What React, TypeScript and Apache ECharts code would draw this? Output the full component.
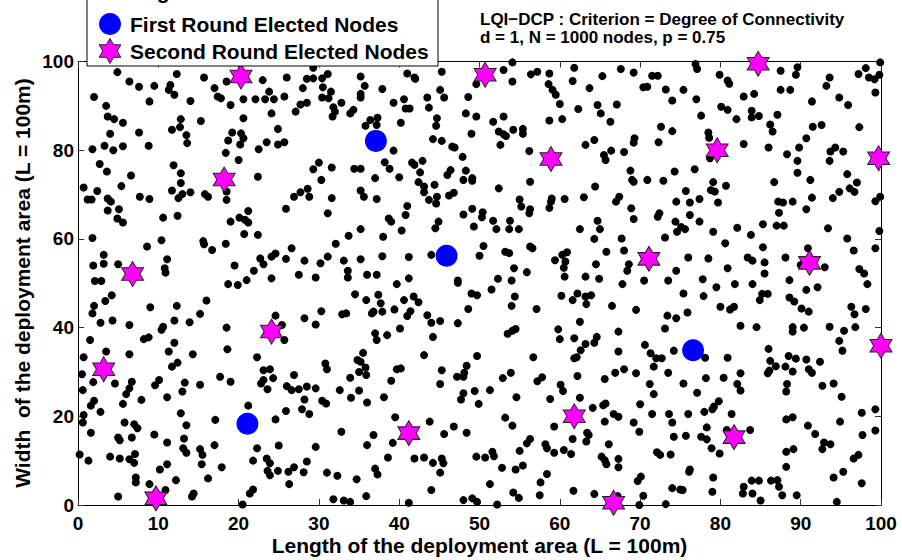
import React, { useEffect, useRef } from "react";
import * as echarts from "echarts";

// Ordinary (non-elected) nodes: [x, y]
const sensorNodes: number[][] = [
  [4.9,97.6],[6.4,95.5],[7.6,94.3],[9.5,94.5],[12.3,97.2],[11.5,94.7],[11.3,93.6],[12.0,92.5],[15.7,96.4],[17.0,94.0],[18.5,95.5],[23.0,95.8],[23.8,93.2],[2.0,92.0],[3.5,90.0],[8.9,91.0],[14.0,91.1],[17.4,92.1],[17.8,91.7],[19.0,90.2],[20.6,91.5],[22.1,91.5],[23.3,91.5],[24.4,91.5],[24.1,88.3],[3.7,87.6],[4.5,87.0],[5.6,86.2],[12.8,87.0],[12.7,85.2],[11.7,84.6],[15.3,86.6],[20.6,87.2],[4.0,83.7],[7.6,84.0],[13.5,83.4],[13.6,81.6],[19.2,84.0],[20.3,83.8],[20.6,82.7],[20.2,81.3],[18.7,82.2],[3.3,81.0],[4.4,80.0],[5.6,80.9],[8.8,81.0],[1.8,80.2],[23.5,81.8],[22.5,80.2],[18.4,79.4],[20.0,77.8],[2.7,76.9],[3.6,75.2],[11.9,76.6],[12.8,74.8],[12.8,72.6],[6.6,74.3],[22.4,74.0],[0.7,71.6],[2.4,70.8],[5.4,71.9],[1.2,68.9],[1.7,68.9],[3.7,69.1],[4.1,68.4],[7.7,69.5],[8.9,69.0],[11.7,70.9],[12.5,69.2],[13.0,70.1],[14.0,70.5],[15.8,70.1],[16.2,69.5],[18.5,70.7],[18.5,68.8],[3.7,66.4],[5.1,66.7],[4.9,64.6],[5.6,63.7],[10.6,64.8],[12.4,65.2],[21.2,66.3],[20.1,64.8],[20.8,64.3],[21.2,63.7],[19.0,63.9],[20.7,61.1],[22.4,60.9],[1.8,60.2],[10.4,59.7],[8.6,58.3],[15.6,59.5],[15.7,58.8],[16.7,57.5],[18.4,58.9],[3.2,56.4],[1.9,54.0],[3.2,54.4],[11.1,55.4],[10.8,53.4],[10.9,52.4],[5.0,54.3],[19.5,54.0],[22.7,55.6],[23.1,54.3],[24.1,56.0],[24.6,56.7],[21.9,52.8],[21.0,50.7],[24.1,51.1],[2.1,50.5],[2.9,50.5],
  [29.3,98.6],[26.0,96.4],[28.5,96.1],[29.3,96.2],[30.4,96.2],[31.1,97.2],[30.5,94.2],[31.5,93.2],[30.4,91.9],[31.2,91.7],[28.0,94.0],[35.2,96.6],[35.7,94.5],[35.2,92.7],[35.2,91.9],[37.9,93.8],[41.0,97.3],[41.9,96.4],[42.0,96.1],[45.3,97.7],[45.1,93.6],[45.6,91.9],[43.5,91.9],[48.6,92.0],[25.7,92.1],[27.7,90.3],[28.5,90.7],[27.1,88.7],[31.8,89.7],[32.8,90.7],[32.0,88.7],[31.7,87.6],[33.9,88.3],[34.3,89.1],[39.3,90.7],[40.6,91.5],[40.8,89.4],[41.3,89.4],[43.7,89.6],[44.7,87.2],[44.6,85.5],[48.3,88.3],[36.4,86.8],[37.3,87.3],[35.8,85.5],[37.2,85.7],[40.2,86.2],[24.9,84.8],[24.9,81.3],[25.7,81.8],[39.3,79.9],[44.2,82.5],[45.3,82.1],[46.6,80.8],[46.9,80.6],[49.0,83.7],[47.9,78.5],[30.0,77.2],[29.3,75.7],[31.6,76.1],[34.4,75.8],[35.2,75.8],[38.2,77.3],[38.8,75.8],[37.0,73.7],[30.3,73.3],[40.0,73.9],[41.6,77.2],[41.9,76.7],[42.9,77.6],[42.6,75.0],[46.0,74.4],[46.4,75.5],[48.3,75.4],[48.0,73.3],[49.1,73.7],[49.1,73.1],[42.4,72.8],[43.1,71.8],[43.1,70.5],[44.4,72.2],[28.6,71.3],[28.8,69.5],[27.7,70.5],[26.9,69.5],[31.6,69.2],[35.2,70.9],[35.6,69.5],[37.2,69.0],[43.7,68.8],[44.7,69.5],[44.6,68.0],[46.2,69.8],[46.8,70.4],[25.9,66.8],[31.1,65.8],[41.0,67.4],[40.8,65.4],[49.1,66.8],[48.0,65.5],[38.7,64.6],[39.0,63.9],[40.3,61.9],[44.9,63.9],[44.5,62.4],[49.3,62.8],[35.2,62.2],[33.7,60.7],[38.0,60.5],[32.1,58.9],[26.6,57.9],[25.9,55.5],[28.2,55.1],[30.2,54.5],[31.1,56.0],[33.1,55.1],[35.2,55.4],[37.9,56.1],[41.2,55.9],[44.0,56.4],[27.5,51.9],[29.6,51.3],[33.6,52.8],[33.6,51.3],[36.0,51.9],[37.2,51.9],[41.2,51.1],[47.3,50.6],
  [49.6,94.9],[53.0,98.1],[54.1,99.8],[54.1,95.5],[56.4,97.1],[57.2,97.7],[58.7,97.3],[58.6,94.9],[59.1,93.6],[59.5,92.5],[60.0,90.4],[61.8,98.6],[61.6,95.6],[63.7,94.0],[65.3,96.7],[67.6,98.3],[69.2,97.5],[71.5,96.8],[72.2,96.8],[70.4,94.2],[70.9,94.3],[73.2,93.7],[74.0,91.2],[49.6,87.6],[53.0,87.6],[51.7,86.4],[58.7,86.7],[60.3,87.0],[62.3,89.3],[64.7,90.2],[65.1,88.3],[67.1,90.3],[66.3,86.4],[52.4,84.2],[53.0,83.6],[53.3,83.2],[54.2,84.6],[55.4,84.8],[55.4,83.7],[52.6,81.2],[56.2,79.8],[63.2,81.2],[64.3,82.3],[65.5,78.9],[65.7,77.8],[66.4,79.9],[68.0,79.6],[69.3,82.7],[69.2,81.7],[72.3,81.8],[72.6,85.3],[74.0,84.3],[68.8,75.4],[69.0,73.3],[69.2,72.9],[70.9,73.3],[72.9,73.1],[74.3,75.2],[56.3,72.9],[52.4,71.4],[64.4,71.8],[55.0,68.9],[55.2,67.3],[59.0,69.1],[58.9,68.4],[58.7,67.0],[60.6,69.0],[63.0,69.4],[67.0,68.4],[67.4,69.5],[56.3,66.7],[56.2,65.8],[68.9,66.9],[69.2,64.5],[72.4,65.8],[72.2,65.0],[74.5,68.4],[50.4,66.0],[50.3,64.9],[51.7,64.1],[52.1,62.2],[53.8,64.1],[53.7,62.2],[54.9,62.2],[62.5,62.2],[64.7,64.1],[65.0,62.2],[64.3,60.0],[67.7,60.1],[73.1,60.3],[74.4,63.9],[74.6,61.6],[50.5,58.4],[50.0,56.2],[53.2,57.1],[53.7,56.8],[56.3,58.3],[56.6,57.9],[59.4,55.2],[60.3,56.4],[60.9,57.0],[60.7,54.9],[60.5,53.5],[54.3,53.4],[55.9,52.5],[65.8,57.1],[64.5,54.3],[68.0,57.4],[68.6,54.3],[68.4,52.8],[74.5,52.8],[52.3,51.0],[54.0,50.6],[60.6,51.5],[63.2,51.5],[64.9,51.0],[70.5,50.6],[73.5,50.6],
  [76.9,99.4],[77.1,98.3],[79.9,97.0],[80.9,95.7],[81.1,95.0],[87.5,97.9],[89.6,98.7],[89.4,97.0],[93.6,96.4],[93.2,94.5],[97.2,97.2],[98.1,98.5],[98.5,96.4],[99.2,96.0],[99.8,97.0],[99.9,99.8],[99.3,93.0],[75.4,93.6],[77.0,91.5],[82.9,92.1],[84.2,92.7],[87.5,93.6],[88.7,93.6],[91.4,91.0],[94.8,91.9],[95.9,90.2],[80.1,89.8],[80.9,89.1],[77.6,87.8],[83.9,88.9],[83.9,87.4],[84.8,87.7],[82.0,87.0],[87.1,88.0],[86.2,85.8],[86.5,84.2],[91.5,85.3],[92.6,85.7],[97.3,85.2],[78.5,84.0],[78.6,82.8],[78.7,78.2],[82.9,81.4],[86.0,80.6],[88.3,79.1],[89.8,80.6],[89.6,77.6],[90.7,82.7],[93.7,79.7],[94.3,80.6],[95.3,79.7],[93.6,77.6],[76.8,75.7],[79.1,72.8],[78.8,71.0],[79.3,70.7],[80.7,72.0],[86.7,72.8],[89.6,74.9],[91.2,73.3],[95.8,74.6],[97.0,72.7],[96.1,71.4],[96.7,70.6],[94.8,70.6],[94.0,69.2],[75.7,70.8],[76.2,68.2],[77.4,69.0],[79.7,68.2],[87.2,68.4],[87.8,68.2],[89.0,68.4],[91.4,69.3],[90.7,66.7],[87.3,65.9],[99.3,68.5],[99.9,69.5],[76.2,65.4],[77.4,63.9],[75.6,62.2],[75.1,62.7],[79.1,61.6],[82.1,62.5],[83.8,60.9],[85.3,63.3],[87.0,63.0],[87.9,63.0],[93.4,62.4],[95.8,60.1],[99.8,61.8],[80.6,59.0],[85.3,58.1],[96.6,57.4],[99.3,57.9],[76.0,55.8],[78.5,55.6],[83.4,55.8],[84.0,55.1],[85.5,54.7],[85.5,52.2],[88.1,55.8],[90.9,57.9],[93.0,53.6],[90.0,54.1],[97.3,53.2],[97.9,52.2],[80.9,53.4],[77.8,50.9],[88.6,50.7],
  [18.7,49.8],[19.9,49.6],[4.2,47.3],[3.4,46.0],[2.0,44.9],[1.8,43.2],[9.0,44.6],[12.3,44.9],[16.0,46.1],[15.2,43.1],[2.8,41.1],[4.3,41.6],[6.4,40.6],[10.6,40.2],[10.4,39.5],[12.0,41.6],[13.9,41.2],[18.5,40.0],[24.6,42.7],[1.5,37.2],[8.2,37.4],[8.8,37.8],[12.0,36.6],[11.3,34.6],[3.5,34.6],[6.4,34.0],[14.3,34.0],[18.6,35.1],[0.7,33.3],[22.3,33.3],[0.5,29.5],[11.7,31.2],[12.4,32.1],[23.1,30.4],[23.9,30.6],[24.3,28.6],[22.8,27.4],[23.1,28.2],[0.6,25.9],[1.9,27.7],[4.6,27.4],[6.7,27.8],[6.4,26.3],[6.0,25.0],[9.6,27.0],[10.1,28.2],[13.3,27.6],[13.0,25.6],[15.2,27.1],[17.7,28.9],[19.0,27.8],[23.6,26.1],[11.1,24.3],[7.9,23.7],[2.0,23.5],[1.6,22.4],[2.8,21.0],[5.6,22.8],[0.7,20.3],[0.6,18.6],[12.8,20.7],[13.5,18.0],[17.1,19.2],[21.2,22.4],[24.6,19.3],[1.6,16.3],[5.8,18.6],[7.0,18.2],[7.4,17.3],[5.0,15.2],[5.2,14.6],[6.7,15.2],[9.5,15.9],[13.2,15.0],[11.1,14.1],[0.2,11.4],[1.3,10.0],[4.0,10.9],[5.2,10.5],[6.4,10.3],[7.1,11.5],[7.0,9.5],[13.1,12.8],[13.5,11.8],[15.2,12.6],[15.5,11.3],[15.4,9.2],[17.0,13.5],[22.3,12.8],[25.0,13.4],[21.8,10.0],[23.5,10.5],[23.9,9.4],[23.6,7.7],[23.9,6.7],[17.9,8.5],[11.1,9.2],[10.2,8.0],[12.2,5.6],[16.2,6.0],[7.2,6.2],[7.2,5.1],[8.9,4.7],[10.9,3.4],[5.0,1.9],[14.4,2.6],[14.2,1.9],[21.8,3.5],[21.4,2.6],[20.5,0.1],
  [39.7,49.8],[47.3,50.1],[34.5,47.5],[35.9,46.2],[37.4,47.4],[37.7,45.5],[37.9,43.6],[36.6,43.2],[36.8,43.6],[40.6,46.2],[41.8,47.0],[42.4,45.7],[39.4,44.1],[41.4,43.7],[41.0,42.6],[43.5,42.8],[44.0,41.1],[45.1,41.5],[48.6,44.2],[49.0,47.7],[49.7,47.3],[47.3,41.0],[30.3,43.7],[32.9,43.0],[33.4,43.2],[28.2,42.1],[29.6,40.7],[25.4,40.6],[25.7,37.2],[37.0,38.7],[37.2,37.2],[38.5,38.3],[40.1,39.8],[44.2,37.9],[35.5,34.3],[34.8,32.7],[35.2,32.3],[35.8,31.0],[35.9,29.3],[35.0,30.0],[30.8,31.9],[31.0,30.6],[33.9,28.7],[26.9,29.3],[26.0,26.8],[26.6,25.9],[27.5,26.1],[28.5,26.7],[29.6,26.3],[28.2,23.8],[27.9,21.6],[28.8,20.5],[25.9,21.2],[30.4,23.5],[30.9,22.9],[32.6,25.9],[34.0,24.2],[35.0,25.8],[36.0,23.1],[38.1,24.3],[39.0,28.0],[39.7,30.6],[40.2,30.8],[43.1,33.8],[45.3,30.4],[45.1,27.3],[47.2,28.9],[48.0,28.9],[48.4,31.4],[48.1,29.8],[49.7,33.6],[48.0,25.2],[47.7,23.8],[49.4,25.7],[49.9,22.8],[39.5,19.8],[43.8,18.8],[46.8,17.7],[45.6,16.0],[48.4,16.3],[32.8,16.5],[36.8,15.8],[36.0,13.5],[39.2,14.0],[29.6,13.1],[38.6,10.7],[41.9,10.5],[43.1,10.7],[44.2,9.5],[45.3,10.5],[45.5,9.4],[45.1,7.3],[49.6,10.9],[28.5,9.8],[24.9,7.7],[26.2,7.5],[26.9,8.5],[28.1,7.4],[26.3,4.7],[31.0,7.3],[32.3,6.6],[34.7,5.8],[37.0,8.2],[37.3,6.9],[44.0,3.4],[31.8,1.3],[33.1,1.0],[33.9,0.7],[35.9,2.0],[41.2,0.5],[48.0,1.1],[49.1,1.5],[49.7,0.7],
  [67.8,49.8],[51.5,48.6],[54.4,47.0],[54.0,44.9],[57.1,44.2],[60.2,47.2],[61.6,46.2],[62.2,47.7],[63.2,47.0],[63.9,47.3],[63.3,45.3],[66.5,44.9],[69.5,44.0],[73.4,42.7],[74.5,42.1],[62.5,41.3],[59.8,39.6],[60.0,37.4],[61.8,37.6],[53.5,38.6],[54.1,39.3],[54.5,39.7],[56.7,33.3],[64.6,37.9],[64.3,36.6],[63.2,36.3],[62.6,34.9],[61.8,33.1],[62.1,33.3],[67.3,39.1],[67.3,34.6],[70.6,36.1],[71.3,34.2],[72.0,33.1],[72.7,33.1],[73.1,39.8],[74.2,34.8],[71.7,31.2],[73.5,29.8],[69.5,29.7],[68.0,30.6],[66.9,29.8],[65.6,28.4],[62.2,29.1],[53.9,29.8],[52.9,28.6],[57.2,27.9],[57.8,28.8],[60.1,27.1],[60.4,25.7],[51.3,25.9],[54.6,24.3],[58.8,23.9],[62.5,24.2],[71.2,27.3],[71.7,25.0],[64.1,21.9],[65.4,22.5],[65.7,22.9],[70.0,22.7],[53.2,19.7],[54.1,17.9],[59.3,17.7],[65.6,18.8],[66.7,20.5],[67.3,19.9],[69.2,18.6],[69.9,16.5],[71.5,20.5],[73.6,20.5],[74.0,18.6],[74.2,15.4],[63.4,16.3],[63.6,15.8],[63.3,14.3],[61.6,14.9],[66.1,13.7],[56.3,14.9],[55.9,13.9],[55.0,12.2],[58.2,13.7],[58.4,12.8],[59.3,11.8],[60.5,12.4],[61.4,11.5],[50.7,10.7],[51.6,12.0],[51.8,11.0],[65.2,10.9],[65.6,10.1],[65.8,9.2],[67.3,10.4],[67.3,8.5],[72.1,11.9],[72.5,11.3],[73.8,11.4],[52.8,8.4],[54.5,8.0],[55.4,8.9],[58.4,7.0],[57.6,5.1],[51.3,4.7],[69.7,5.4],[70.1,6.4],[74.0,3.8],[54.2,2.8],[54.9,1.6],[57.5,2.2],[61.7,3.2],[64.3,2.5],[67.2,2.0],[70.4,2.1],[52.2,0.1],[69.9,0.0],[73.2,0.2],[75.0,3.5],
  [79.5,49.1],[81.8,49.8],[84.0,49.8],[92.1,49.1],[98.3,49.8],[75.4,47.7],[77.9,47.1],[80.0,44.7],[81.2,44.1],[81.7,44.7],[84.9,46.2],[85.2,47.6],[85.9,47.6],[88.6,46.8],[89.2,45.9],[90.7,48.5],[90.1,44.3],[91.0,43.6],[96.3,44.7],[96.7,43.0],[98.1,44.2],[75.9,43.4],[82.5,40.4],[84.5,40.1],[89.0,40.1],[89.0,39.1],[90.4,40.0],[93.6,40.2],[95.4,39.3],[96.8,40.1],[94.8,37.0],[95.2,34.8],[78.1,33.2],[80.9,33.2],[86.0,35.2],[86.2,32.5],[86.9,31.3],[85.9,29.7],[86.1,30.3],[88.5,33.6],[89.4,33.0],[88.1,31.2],[89.0,30.1],[90.7,32.8],[92.4,32.3],[91.0,30.6],[91.4,29.8],[82.5,29.7],[75.4,27.4],[78.2,28.6],[80.4,28.7],[82.1,27.3],[82.5,25.8],[88.3,27.3],[88.2,25.6],[92.7,26.9],[94.1,27.4],[95.1,24.4],[77.1,25.3],[79.8,23.4],[79.2,22.2],[79.0,21.6],[78.0,21.0],[76.0,20.5],[81.4,20.5],[88.2,19.3],[89.0,19.8],[90.9,17.9],[94.9,18.8],[97.6,20.8],[99.3,21.6],[78.3,17.5],[91.8,16.0],[92.9,14.1],[93.7,13.7],[92.7,12.6],[97.7,15.8],[99.3,16.8],[83.7,16.9],[80.8,16.9],[77.6,15.4],[78.3,14.8],[75.7,15.6],[78.9,12.8],[79.9,11.6],[88.2,12.0],[89.1,12.6],[88.2,8.6],[96.6,10.5],[97.2,11.3],[76.2,8.0],[76.1,7.5],[79.1,6.2],[83.9,5.5],[84.8,5.5],[86.3,5.5],[87.1,5.6],[87.3,4.1],[82.9,4.1],[82.8,2.6],[84.0,2.6],[85.0,1.0],[87.7,2.2],[89.5,2.2],[94.1,6.2],[95.3,7.5],[97.6,4.9],[75.3,3.4],[79.0,3.0],[94.5,0.7]
];

const firstRound: number[][] = [
  [37.1, 82.1], [45.9, 56.2], [21.1, 18.3], [76.6, 34.9]
];

const secondRound: number[][] = [
  [20.3, 96.6], [50.7, 97.0], [84.7, 99.5], [18.2, 73.4], [58.9, 78.0], [79.6, 80.0],
  [99.7, 78.2], [6.8, 52.1], [71.1, 55.5], [91.1, 54.6], [24.1, 39.1], [3.2, 30.6],
  [100.0, 35.9], [61.8, 20.0], [41.2, 16.2], [81.7, 15.3], [9.7, 1.5], [66.7, 0.5]
];

const xTicks = { min: 0, max: 100, interval: 10 };
const yTicks = { min: 0, max: 100, interval: 20 };

const titleLines = [
  "LQI\u2212DCP : Criterion = Degree of Connectivity",
  "d = 1, N = 1000 nodes, p = 0.75"
];
const legendLabels = ["Regular Nodes", "First Round Elected Nodes", "Second Round Elected Nodes"];
const xName = "Length of the deployment area (L = 100m)";
const yName = "Width  of the deployment area (L = 100m)";

const FONT = '"Liberation Sans", Arial, Helvetica, sans-serif';
const STAR_PATH =
  "path://M0,-10L2.887,-5L8.66,-5L5.774,0L8.66,5L2.887,5L0,10L-2.887,5L-8.66,5L-5.774,0L-8.66,-5L-2.887,-5Z";

function hexagram(cx: number, cy: number, h: number): number[][] {
  const R = h / 2;
  const r = R / Math.sqrt(3);
  const pts: number[][] = [];
  for (let i = 0; i < 12; i++) {
    const a = -Math.PI / 2 + (i * Math.PI) / 6;
    const rad = i % 2 === 0 ? R : r;
    pts.push([cx + rad * Math.cos(a), cy + rad * Math.sin(a)]);
  }
  return pts;
}

export default function App() {
  const ref = useRef<HTMLDivElement>(null);
  useEffect(() => {
    if (!ref.current) return;
    const chart = echarts.init(ref.current, undefined, { renderer: "svg" });
    const tickLabel = { fontFamily: FONT, fontWeight: "bold" as const, fontSize: 19, color: "#000" };
    const axisCommon = {
      type: "value" as const,
      axisLine: { show: true, onZero: false, lineStyle: { color: "#000", width: 1 } },
      axisTick: { show: true, inside: true, length: 6, lineStyle: { color: "#333", width: 1 } },
      splitLine: { show: false },
    };
    chart.setOption({
      animation: false,
      backgroundColor: "#fff",
      grid: { left: 78, right: 21, top: 61.5, bottom: 55, containLabel: false },
      xAxis: [
        { ...axisCommon, ...xTicks, position: "bottom", axisLabel: { ...tickLabel, margin: 9 } },
        { ...axisCommon, ...xTicks, position: "top", axisLabel: { show: false } },
      ],
      yAxis: [
        { ...axisCommon, ...yTicks, position: "left", axisLabel: { ...tickLabel, margin: 4 } },
        { ...axisCommon, ...yTicks, position: "right", axisLabel: { show: false } },
      ],
      series: [
        {
          type: "scatter",
          data: sensorNodes,
          symbol: "circle",
          symbolSize: 8,
          itemStyle: { color: "#000", opacity: 1 },
          clip: false,
          silent: true,
        },
        {
          type: "scatter",
          data: firstRound,
          symbol: "circle",
          symbolSize: 22,
          itemStyle: { color: "#0000ff", opacity: 1 },
          clip: false,
          silent: true,
        },
        {
          type: "scatter",
          data: secondRound,
          symbol: STAR_PATH,
          symbolSize: [22, 25],
          itemStyle: { color: "#ff00ff", borderColor: "#222", borderWidth: 1, opacity: 1 },
          clip: false,
          silent: true,
        },
      ],
      graphic: [
        {
          type: "text",
          x: 480,
          y: 19,
          style: { text: titleLines[0], font: `bold 17px ${FONT}`, fill: "#000", textAlign: "left", textVerticalAlign: "middle" },
          z: 20,
        },
        {
          type: "text",
          x: 480,
          y: 37,
          style: { text: titleLines[1], font: `bold 17px ${FONT}`, fill: "#000", textAlign: "left", textVerticalAlign: "middle" },
          z: 20,
        },
        {
          type: "text",
          x: 479.5,
          y: 545,
          style: { text: xName, font: `bold 21px ${FONT}`, fill: "#000", textAlign: "center", textVerticalAlign: "middle" },
          z: 20,
        },
        {
          type: "text",
          x: 22,
          y: 283,
          rotation: Math.PI / 2,
          style: { text: yName, font: `bold 21px ${FONT}`, fill: "#000", textAlign: "center", textVerticalAlign: "middle" },
          z: 20,
        },
        {
          type: "group",
          z: 30,
          children: [
            {
              type: "rect",
              shape: { x: 87, y: -12, width: 351, height: 78 },
              style: { fill: "#fff", stroke: "#000", lineWidth: 1 },
              z: 30,
            },
            {
              type: "text",
              x: 130,
              y: -9,
              style: { text: legendLabels[0], font: `bold 21px ${FONT}`, fill: "#000", textAlign: "left", textVerticalAlign: "middle" },
              z: 31,
            },
            {
              type: "circle",
              shape: { cx: 110, cy: 24, r: 11 },
              style: { fill: "#0000ff" },
              z: 31,
            },
            {
              type: "text",
              x: 130,
              y: 24,
              style: { text: legendLabels[1], font: `bold 21px ${FONT}`, fill: "#000", textAlign: "left", textVerticalAlign: "middle" },
              z: 31,
            },
            {
              type: "polygon",
              shape: { points: hexagram(110, 51, 25) },
              style: { fill: "#ff00ff", stroke: "#222", lineWidth: 1 },
              z: 31,
            },
            {
              type: "text",
              x: 130,
              y: 51,
              style: { text: legendLabels[2], font: `bold 21px ${FONT}`, fill: "#000", textAlign: "left", textVerticalAlign: "middle" },
              z: 31,
            },
          ],
        },
      ],
    });
    return () => chart.dispose();
  }, []);
  return (
    <div
      ref={ref}
      style={{ position: "fixed", left: 0, top: 0, width: 902, height: 560, background: "#fff" }}
    />
  );
}
